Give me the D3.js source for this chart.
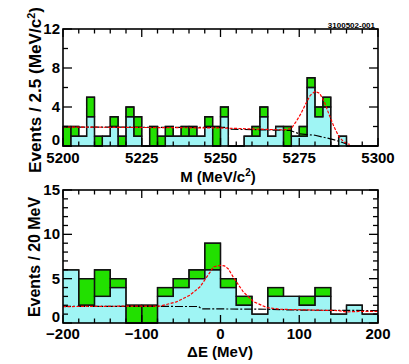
<!DOCTYPE html>
<html>
<head>
<meta charset="utf-8">
<script src="https://cdn.jsdelivr.net/npm/d3@7"></script>
<style>
  body { margin: 0; background: #fff; }
  text { font-family: "Liberation Sans", Arial, sans-serif; font-weight: bold; fill: #000; }
</style>
</head>
<body>
<script>
const width = 409;
const height = 364;

// top panel: M (MeV/c^2), 2.5 MeV bins from 5200
const mStart = 5200;
const mBinWidth = 2.5;
const mTotal = [2, 2, 1, 5, 1, 1, 3, 1, 4, 3, 0, 2, 1, 2, 1, 2, 2, 1, 3, 2,
                4, 0, 0, 1, 2, 4, 1, 2, 2, 1, 2, 7, 4, 5, 0, 1, 0, 0, 0, 0];
const mCyan = [0, 1, 1, 3, 0, 1, 2, 0, 3, 1, 0, 0, 0, 1, 1, 1, 1, 1, 2, 0,
               3, 0, 0, 1, 1, 3, 1, 2, 0, 1, 1, 6, 3, 4, 0, 1, 0, 0, 0, 0];
const mFit = [[5200, 1.95], [5250, 1.85], [5260, 1.75], [5270, 1.65], [5272.5, 1.8],
              [5274, 2.5], [5275.5, 3.3], [5277, 4.3], [5278.5, 5.2], [5280, 5.6],
              [5281.5, 5.4], [5283, 4.5], [5284.5, 3.2], [5286, 2.0], [5287.5, 1.0],
              [5289, 0.45], [5291, 0.15]];
const mBkg = [[5200, 1.95], [5252, 1.9], [5253, 1.72], [5272, 1.6], [5275, 1.25],
              [5280, 1.1], [5284, 0.8], [5287, 0.55], [5290, 0.2]];
const mXTicks = [5200, 5225, 5250, 5275, 5300];
const mYTicks = [0, 4, 8, 12];

// bottom panel: Delta E (MeV), 20 MeV bins from -200
const eStart = -200;
const eBinWidth = 20;
const eTotal = [6, 5, 6, 5, 2, 2, 4, 5, 6, 9, 5, 3, 1, 4, 3, 3, 4, 1, 2, 1];
const eCyan = [6, 2, 3, 4, 0, 0, 3, 4, 5, 6, 4, 2, 1, 3, 3, 2, 3, 1, 2, 1];
const eFit = [[-200, 1.85], [-120, 1.9], [-77, 1.9], [-56, 2.38], [-39, 3.13], [-26, 4.08],
              [-13, 5.77], [-9, 6.34], [0, 6.5], [5, 6.45], [10, 6.1], [16, 5.2], [29, 3.5],
              [42, 2.4], [59, 1.74], [76, 1.55], [120, 1.45], [150, 1.4], [160, 1.25],
              [175, 1.3], [200, 1.3]];
const eBkg = [[-200, 1.88], [-28, 1.86], [-24, 1.6], [60, 1.55], [100, 1.45], [200, 1.4]];
const eXTicks = [-200, -100, 0, 100, 200];
const eYTicks = [0, 5, 10, 15];

const green = '#22e000';
const cyan = '#9ff5f4';

const svg = d3.select('body')
  .append('svg')
  .attr('width', width)
  .attr('height', height);

function panel(cfg) {
  const x = d3.scaleLinear().domain(cfg.xDomain).range([63, 378]);
  const y = d3.scaleLinear().domain(cfg.yDomain).range([cfg.bottom, cfg.top]);
  const g = svg.append('g');

  const pts = vals => {
    const p = vals.map((v, i) => [cfg.start + i * cfg.binWidth, v]);
    p.push([cfg.start + vals.length * cfg.binWidth, vals[vals.length - 1]]);
    return p;
  };
  const area = d3.area().curve(d3.curveStepAfter)
    .x(d => x(d[0])).y0(y(0)).y1(d => y(d[1]));
  const step = d3.line().curve(d3.curveStepAfter)
    .x(d => x(d[0])).y(d => y(d[1]));
  const line = d3.line().x(d => x(d[0])).y(d => y(d[1]));

  g.append('path').attr('d', area(pts(cfg.total))).attr('fill', green);
  g.append('path').attr('d', area(pts(cfg.cyan))).attr('fill', cyan);

  // box outline around the green part of each bin
  cfg.total.forEach((v, i) => {
    if (v === 0 || v === cfg.cyan[i]) return;
    const x0 = x(cfg.start + i * cfg.binWidth);
    const x1 = x(cfg.start + (i + 1) * cfg.binWidth);
    g.append('rect')
      .attr('x', x0).attr('y', y(v))
      .attr('width', x1 - x0).attr('height', y(cfg.cyan[i]) - y(v))
      .attr('fill', 'none').attr('stroke', '#111').attr('stroke-width', 1.3);
  });
  g.append('path').attr('d', step(pts(cfg.cyan)))
    .attr('fill', 'none').attr('stroke', '#111').attr('stroke-width', 1.3);
  g.append('path').attr('d', step(pts(cfg.total)))
    .attr('fill', 'none').attr('stroke', '#111').attr('stroke-width', 1.3);

  g.append('path').attr('d', line(cfg.bkg))
    .attr('fill', 'none').attr('stroke', '#000').attr('stroke-width', 1.2)
    .attr('stroke-dasharray', '8,2,2,2');
  g.append('path').attr('d', line(cfg.fit))
    .attr('fill', 'none').attr('stroke', '#f00').attr('stroke-width', 1.2)
    .attr('stroke-dasharray', '3,1.5');

  // ticks, pointing inward on all four sides
  const tk = g.append('g').attr('stroke', '#000').attr('stroke-width', 1.3);
  d3.range(cfg.xDomain[0], cfg.xDomain[1] + 1e-9, cfg.xMinor).forEach(v => {
    const len = cfg.xTicks.includes(+v.toFixed(3)) ? 8 : 4.5;
    tk.append('line').attr('x1', x(v)).attr('x2', x(v))
      .attr('y1', cfg.bottom).attr('y2', cfg.bottom - len);
    tk.append('line').attr('x1', x(v)).attr('x2', x(v))
      .attr('y1', cfg.top).attr('y2', cfg.top + len);
  });
  d3.range(cfg.yDomain[0], cfg.yDomain[1] + 1e-9, cfg.yMinor).forEach(v => {
    const len = cfg.yTicks.includes(v) ? 9 : 5;
    tk.append('line').attr('x1', 63).attr('x2', 63 + len)
      .attr('y1', y(v)).attr('y2', y(v));
    tk.append('line').attr('x1', 378).attr('x2', 378 - len)
      .attr('y1', y(v)).attr('y2', y(v));
  });

  g.append('rect')
    .attr('x', 63).attr('y', cfg.top)
    .attr('width', 315).attr('height', cfg.bottom - cfg.top)
    .attr('fill', 'none').attr('stroke', '#000').attr('stroke-width', 1.6);

  g.selectAll('.xl').data(cfg.xTicks).join('text')
    .attr('x', d => x(d)).attr('y', cfg.bottom + cfg.xLabelDy)
    .attr('text-anchor', 'middle').attr('font-size', 15)
    .text(d => d < 0 ? '\u2212' + Math.abs(d) : d);
  g.selectAll('.yl').data(cfg.yTicks).join('text')
    .attr('x', 60).attr('y', d => d === 0 ? y(d) - 1 : y(d) + 5)
    .attr('text-anchor', 'end').attr('font-size', 15)
    .text(d => d);

  return g;
}

const topPanel = panel({
  xDomain: [5200, 5300], yDomain: [0, 12], top: 29, bottom: 146, xLabelDy: 17,
  start: mStart, binWidth: mBinWidth, total: mTotal, cyan: mCyan,
  fit: mFit, bkg: mBkg, xTicks: mXTicks, yTicks: mYTicks, xMinor: 5, yMinor: 2
});
topPanel.append('text')
  .attr('x', 218).attr('y', 182).attr('text-anchor', 'middle').attr('font-size', 15)
  .html('M (MeV/c<tspan dy="-6" font-size="10">2</tspan><tspan dy="6">)</tspan>');
topPanel.append('text')
  .attr('transform', 'translate(41, 90) rotate(-90)')
  .attr('text-anchor', 'middle').attr('font-size', 16)
  .attr('textLength', 166).attr('lengthAdjust', 'spacingAndGlyphs')
  .html('Events / 2.5 (MeV/c<tspan dy="-6" font-size="10">2</tspan><tspan dy="6">)</tspan>');
topPanel.append('text')
  .attr('x', 375).attr('y', 28).attr('text-anchor', 'end')
  .attr('font-size', 8).attr('font-weight', 'normal')
  .text('3100502-001');

const bottomPanel = panel({
  xDomain: [-200, 200], yDomain: [0, 15], top: 190, bottom: 323, xLabelDy: 16,
  start: eStart, binWidth: eBinWidth, total: eTotal, cyan: eCyan,
  fit: eFit, bkg: eBkg, xTicks: eXTicks, yTicks: eYTicks, xMinor: 20, yMinor: 1
});
bottomPanel.append('text')
  .attr('x', 220).attr('y', 357).attr('text-anchor', 'middle').attr('font-size', 15)
  .text('\u0394E (MeV)');
bottomPanel.append('text')
  .attr('transform', 'translate(40, 257) rotate(-90)')
  .attr('text-anchor', 'middle').attr('font-size', 16)
  .attr('textLength', 120).attr('lengthAdjust', 'spacingAndGlyphs')
  .text('Events / 20 MeV');
</script>
</body>
</html>
